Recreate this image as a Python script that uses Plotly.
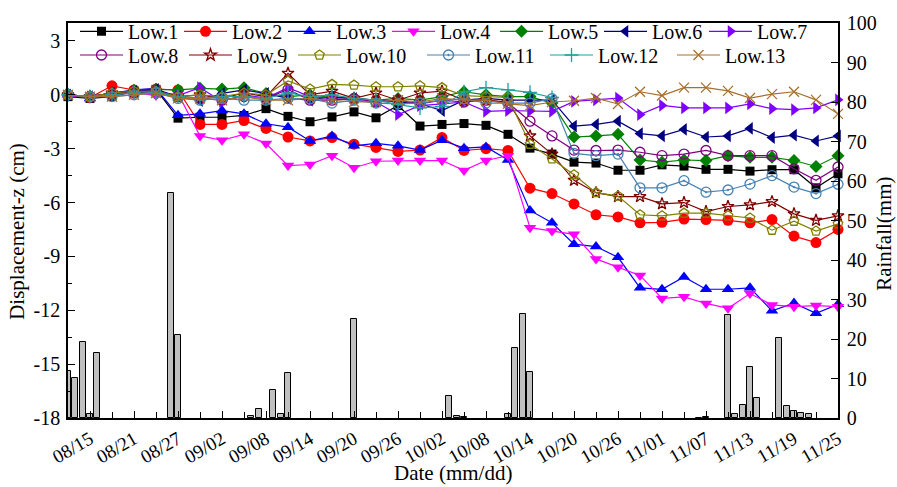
import pandas as pd
import plotly.graph_objects as go

# ---------------- data ----------------
dates = pd.date_range("2021-08-12", "2021-11-25", freq="3D")  # 36 survey dates

series_names = ["Low.1", "Low.2", "Low.3", "Low.4", "Low.5", "Low.6", "Low.7",
                "Low.8", "Low.9", "Low.10", "Low.11", "Low.12", "Low.13"]

low1 = [-0.1, -0.2, -0.1, 0.2, 0.3, -1.3, -1.25, -1.25, -1.15, -0.77, -1.2, -1.5,
        -1.23, -0.95, -1.28, -0.6, -1.74, -1.65, -1.6, -1.7, -2.2, -2.97, -3.3, -3.75,
        -3.8, -4.2, -4.2, -3.9, -3.97, -4.15, -4.15, -4.25, -4.17, -4.17, -5.18, -4.4]
low2 = [0.0, -0.15, 0.5, 0.27, 0.32, 0.27, -1.65, -1.65, -1.43, -1.87, -2.35, -2.57,
        -2.38, -2.75, -2.93, -3.15, -3.08, -2.38, -3.1, -3.0, -3.1, -5.2, -5.5, -6.08,
        -6.68, -6.8, -7.13, -7.1, -6.92, -6.95, -6.99, -7.13, -6.95, -7.87, -8.23, -7.5]
low3 = [0.0, -0.2, 0.08, 0.27, 0.36, -1.14, -1.06, -0.88, -1.06, -1.61, -1.8, -2.57,
        -2.29, -2.84, -2.7, -2.84, -3.08, -2.53, -2.97, -2.9, -3.63, -6.44, -7.13, -8.32,
        -8.45, -9.05, -10.75, -10.83, -10.15, -10.83, -10.83, -10.75, -12.03, -11.6, -12.17, -11.67]
low4 = [-0.04, -0.15, 0.08, 0.14, -0.04, 0.08, -2.29, -2.53, -2.2, -2.71, -3.94, -3.88,
        -3.39, -4.06, -3.7, -3.66, -3.66, -3.66, -4.21, -3.66, -3.39, -7.4, -7.59, -7.77,
        -9.14, -9.6, -10.06, -11.34, -11.25, -11.62, -11.89, -11.07, -11.7, -11.8, -11.74, -11.8]
low5 = [0.0, -0.1, 0.1, 0.25, 0.3, 0.27, 0.36, 0.32, 0.4, 0.08, -0.1, 0.0,
        -0.15, -0.2, -0.3, -0.2, -0.3, -0.1, 0.17, 0.0, -0.1, -0.1, -0.46, -2.35,
        -2.29, -2.2, -3.63, -3.75, -3.63, -3.66, -3.39, -3.48, -3.48, -3.66, -3.99, -3.39]
low6 = [0.0, -0.1, 0.1, 0.2, 0.3, -0.1, -0.33, 0.08, 0.27, 0.08, -0.2, -0.3,
        -0.1, -0.2, -0.3, -0.4, -0.5, -0.88, -0.3, -0.2, -0.3, -0.3, -0.3, -1.74,
        -1.65, -1.47, -2.16, -2.29, -1.93, -2.35, -2.29, -1.87, -2.38, -2.25, -2.57, -2.29]
low7 = [0.0, -0.1, 0.1, 0.2, 0.2, -0.04, 0.4, -0.37, 0.0, -0.18, 0.4, -0.1,
        -0.2, -0.3, -0.4, -1.1, -0.6, -0.5, -0.4, -0.92, -0.88, -0.9, -0.92, -0.37,
        -0.28, -0.18, -1.1, -0.59, -0.73, -0.73, -0.73, -0.51, -0.77, -0.83, -0.73, -0.28]
low8 = [0.0, -0.1, 0.0, 0.1, 0.1, -0.1, -0.2, -0.3, -0.1, -0.2, 0.3, -0.3,
        -0.3, -0.2, -0.4, -0.3, -0.5, -0.3, -0.4, -0.3, -0.45, -1.47, -2.29, -3.08,
        -3.1, -3.08, -3.2, -3.39, -3.3, -3.1, -3.39, -3.39, -3.39, -4.12, -4.76, -4.02]
low9 = [0.0, -0.1, 0.1, 0.1, 0.2, -0.1, 0.0, -0.2, 0.1, -0.1, 1.2, 0.0,
        0.2, -0.2, 0.1, -0.3, 0.1, 0.2, -0.3, -0.3, -0.4, -2.29, -3.3, -4.76,
        -5.45, -5.67, -5.67, -6.07, -6.0, -6.5, -6.22, -6.13, -5.95, -6.63, -6.99, -6.74]
low10 = [0.0, -0.1, 0.1, 0.2, 0.2, -0.1, 0.0, -0.1, 0.1, 0.0, 0.77, 0.32,
         0.58, 0.54, 0.45, 0.45, 0.5, 0.4, -0.04, -0.1, -0.15, -2.75, -3.57, -4.45,
         -5.45, -5.64, -6.68, -6.74, -6.59, -6.59, -6.74, -6.86, -7.54, -7.04, -7.59, -7.19]
low11 = [0.0, -0.1, -0.1, 0.0, 0.1, -0.2, -0.3, -0.2, -0.3, -0.3, -0.2, -0.22,
         -0.46, -0.3, -0.46, -0.5, -0.46, -0.3, -0.22, -0.46, -0.46, -0.46, -0.22, -3.26,
         -3.39, -3.3, -5.18, -5.18, -4.78, -5.42, -5.3, -4.97, -4.5, -5.14, -5.5, -4.98]
low12 = [0.0, -0.1, 0.0, 0.1, 0.1, -0.1, -0.2, -0.1, -0.1, -0.2, 0.1, -0.1,
         0.0, -0.2, -0.3, -0.55, -0.73, -0.65, 0.17, 0.4, 0.27, 0.14, -0.15, None,
         None, None, None, None, None, None, None, None, None, None, None, None]
low13 = [0.0, -0.1, -0.1, 0.0, 0.1, -0.2, -0.2, -0.3, -0.1, -0.3, -0.3, -0.2,
         -0.3, -0.4, -0.4, -0.3, -0.4, -0.2, -0.3, -0.3, -0.5, -0.6, -0.4, -0.33,
         -0.18, -0.51, 0.17, -0.04, 0.4, 0.4, 0.22, -0.18, 0.04, 0.17, -0.28, -1.06]

rain_dates = ["2021-08-12", "2021-08-13", "2021-08-14", "2021-08-15", "2021-08-16",
              "2021-08-26", "2021-08-27", "2021-09-06", "2021-09-07", "2021-09-09",
              "2021-09-10", "2021-09-11", "2021-09-20", "2021-10-03", "2021-10-04",
              "2021-10-05", "2021-10-11", "2021-10-12", "2021-10-13", "2021-10-14",
              "2021-11-06", "2021-11-07", "2021-11-10", "2021-11-11", "2021-11-12",
              "2021-11-13", "2021-11-14", "2021-11-17", "2021-11-18", "2021-11-19",
              "2021-11-20", "2021-11-21"]
rain_mm = [11.8, 10.1, 19.3, 1.0, 16.4,
           57.0, 20.9, 0.5, 2.3, 7.0,
           0.9, 11.3, 25.1, 5.6, 0.4,
           0.2, 0.9, 17.8, 26.4, 11.6,
           0.1, 0.3, 26.2, 0.9, 3.4,
           12.8, 5.1, 20.3, 3.1, 1.8,
           1.2, 0.9]

x_tick_dates = pd.date_range("2021-08-15", "2021-11-25", freq="6D")
x_tick_labels = ["08/15", "08/21", "08/27", "09/02", "09/08", "09/14", "09/20", "09/26",
                 "10/02", "10/08", "10/14", "10/20", "10/26", "11/01", "11/07", "11/13",
                 "11/19", "11/25"]
disp_ticks = [-18, -15, -12, -9, -6, -3, 0, 3]
rain_ticks = [0, 10, 20, 30, 40, 50, 60, 70, 80, 90, 100]

# ---------------- styles ----------------
values = [low1, low2, low3, low4, low5, low6, low7, low8, low9, low10, low11, low12, low13]
colors = ["#000000", "#FF0000", "#0000FF", "#FF00FF", "#008000", "#000080", "#8000FF",
          "#800080", "#800000", "#808000", "#4682B4", "#20A0A0", "#A8702E"]
symbols = ["square", "circle", "triangle-up", "triangle-down", "diamond", "triangle-left",
           "triangle-right", "circle-open", "star-open", "pentagon-open", "circle-open-dot",
           "cross-thin-open", "x-thin-open"]
sizes = [9, 11, 11, 11, 10, 11, 11, 10, 9, 10, 10, 10, 10]

FONT = "'Times New Roman', 'Liberation Serif', 'DejaVu Serif', serif"
W, H = 897, 487
L, R, T, B = 68, 838, 17, 418


def px_x(px):
    return (px - L) / (R - L)


def px_y(py):
    return (B - py) / (B - T)


# legend placements (line start px, row center px)
leg_x = [83, 187, 291, 395, 503, 607, 712, 83, 192, 301, 430, 553, 680]
leg_y = [25.5] * 7 + [49.5] * 6
LEG_OFF = 8

fig = go.Figure()

fig.add_trace(go.Bar(
    x=rain_dates, y=rain_mm, yaxis="y", width=0.8 * 86400000,
    marker=dict(color="#C0C0C0", line=dict(color="#000000", width=1)),
    showlegend=False, name="Rainfall"))

for i, (nm, v) in enumerate(zip(series_names, values)):
    openm = "open" in symbols[i]
    fig.add_trace(go.Scatter(
        x=dates, y=v, yaxis="y2", name=nm, mode="lines+markers",
        line=dict(color=colors[i], width=1.2),
        marker=dict(symbol=symbols[i], size=sizes[i], color=colors[i],
                    line=dict(color=colors[i], width=1.3 if openm else 0)),
        cliponaxis=False,
        legend="legend" if i == 0 else f"legend{i + 1}"))

legends = {}
for i in range(len(series_names)):
    key = "legend" if i == 0 else f"legend{i + 1}"
    legends[key] = dict(
        x=px_x(leg_x[i] - LEG_OFF), y=px_y(leg_y[i]), xanchor="left", yanchor="middle",
        xref="paper", yref="paper",
        bgcolor="rgba(0,0,0,0)", borderwidth=0, itemwidth=43,
        font=dict(family=FONT, size=20, color="black"), orientation="h")

axis_common = dict(showline=True, linecolor="black", linewidth=1.5, showgrid=False,
                   zeroline=False, ticks="inside", tickcolor="black", tickwidth=1.3)

TITLE_FONT = dict(family=FONT, size=21, color="black")

fig.update_layout(
    width=W, height=H,
    margin=dict(l=L, r=W - R, t=T, b=H - B, pad=0),
    paper_bgcolor="white", plot_bgcolor="white",
    font=dict(family=FONT, size=20, color="black"),
    bargap=0, barmode="overlay",
    xaxis=dict(type="date", range=["2021-08-12", "2021-11-25"], mirror=True,
               tickvals=list(x_tick_dates), ticktext=x_tick_labels, tickangle=-30,
               ticklen=7, ticklabelstandoff=1,
               tickfont=dict(family=FONT, size=19, color="black"),
               minor=dict(ticks="inside", ticklen=6, tickcolor="black", tickwidth=1.2,
                          dtick=3 * 86400000, tick0="2021-08-12"),
               **axis_common),
    yaxis=dict(range=[0, 100], side="right", tickvals=rain_ticks,
               ticktext=[str(t) for t in rain_ticks], ticklen=7, anchor="x",
               ticklabelstandoff=3,
               tickfont=dict(family=FONT, size=20, color="black"),
               **axis_common),
    yaxis2=dict(range=[-18, 4], side="left", overlaying="y", anchor="x",
                tickvals=disp_ticks, ticktext=[str(t) for t in disp_ticks], ticklen=7,
                ticklabelstandoff=2,
                tickfont=dict(family=FONT, size=20, color="black"),
                minor=dict(ticks="inside", ticklen=4, tickcolor="black", tickwidth=1.2,
                           dtick=1.5, tick0=0),
                **axis_common),
    annotations=[
        dict(text="Displacement-z (cm)", x=px_x(17), y=px_y(229), xref="paper", yref="paper",
             textangle=-90, showarrow=False, xanchor="center", yanchor="middle",
             font=TITLE_FONT),
        dict(text="Rainfall(mm)", x=px_x(884), y=px_y(231), xref="paper", yref="paper",
             textangle=-90, showarrow=False, xanchor="center", yanchor="middle",
             font=TITLE_FONT),
        dict(text="Date (mm/dd)", x=px_x(453), y=px_y(474), xref="paper", yref="paper",
             showarrow=False, xanchor="center", yanchor="middle",
             font=TITLE_FONT),
    ],
    **legends,
)

fig.write_html("out.html", config={"displayModeBar": False},
               post_script="document.body.style.margin='0';document.body.style.overflow='hidden';")
